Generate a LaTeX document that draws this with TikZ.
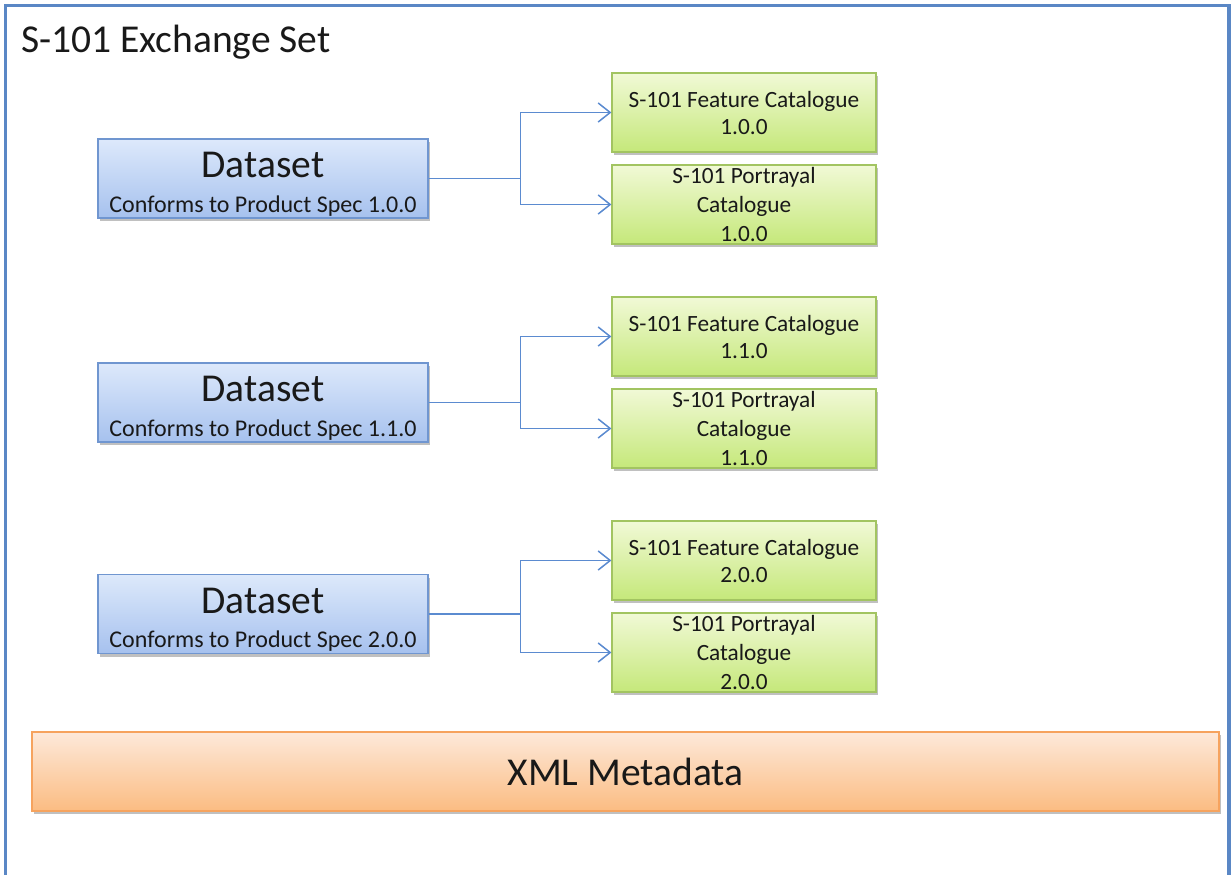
\documentclass[tikz,border=0pt]{standalone}
\usepackage{fontspec}
\setmainfont{Carlito}
\usetikzlibrary{arrows.meta,shadows,calc}

\definecolor{framecol}{HTML}{5A87C5}
\definecolor{linkcol}{HTML}{5B8BD0}
\definecolor{dsTop}{HTML}{DDE9FB}
\definecolor{dsBot}{HTML}{A6C1EE}
\definecolor{dsLine}{HTML}{7096D0}
\definecolor{catTop}{HTML}{F1F9D6}
\definecolor{catBot}{HTML}{C5E87A}
\definecolor{catLine}{HTML}{A2C461}
\definecolor{mdTop}{HTML}{FDE9DA}
\definecolor{mdBot}{HTML}{FBBC82}
\definecolor{mdLine}{HTML}{F6A35E}

\tikzset{
  boxshadow/.style={drop shadow={shadow xshift=2pt, shadow yshift=-3pt, opacity=0.35, fill=black!70}},
  dsbox/.style={draw=dsLine, line width=1.2pt, top color=dsTop, bottom color=dsBot,
    minimum width=330pt, minimum height=79pt, inner sep=0pt, boxshadow},
  catbox/.style={draw=catLine, line width=1.2pt, top color=catTop, bottom color=catBot,
    minimum width=264pt, minimum height=79pt, inner sep=0pt, boxshadow},
  mdbox/.style={draw=mdLine, line width=1.2pt, top color=mdTop, bottom color=mdBot,
    minimum width=1187pt, minimum height=79pt, inner sep=0pt, boxshadow},
  txt/.style={anchor=base, inner sep=0pt, text=black!90},
  link/.style={draw=linkcol, line width=1.5pt, -{Straight Barb[length=12pt,width=19pt]}},
  trunk/.style={draw=linkcol, line width=1.5pt},
}
\newcommand{\bigsize}{\fontsize{39.5}{46}\selectfont}
\newcommand{\subsize}{\fontsize{24}{28}\selectfont}
\newcommand{\catsize}{\fontsize{23.3}{28}\selectfont}

\begin{document}
\begin{tikzpicture}[x=1pt,y=-1pt]
\useasboundingbox (0,0) rectangle (1232,875);
\fill[white] (0,0) rectangle (1232,875);

% outer frame of the exchange set
\draw[framecol, line width=3.5pt] (5.5,900) -- (5.5,5.5) -- (1229,5.5) -- (1229,900);
\node[txt, anchor=base west] (title) at (21,53) {\bigsize S-101 Exchange Set};

% one dataset with its two catalogues
% #1 index, #2 version, #3 dataset centre y, #4 feature top y, #5 portrayal top y
\newcommand{\dsgroup}[5]{%
  \node[dsbox] (ds#1) at (263,#3) {};
  \node[txt] (dsT#1) at (263,#3-1) {\bigsize Dataset};
  \node[txt] (dsS#1) at (263,#3+33.5) {\subsize Conforms to Product Spec #2};
  \node[catbox] (fc#1) at (744,#4+39.5) {};
  \node[txt] (fcA#1) at (744,#4+34) {\catsize S-101 Feature Catalogue};
  \node[txt] (fcB#1) at (744,#4+61.5) {\catsize #2};
  \node[catbox] (pc#1) at (744,#5+39.5) {};
  \node[txt] (pcA#1) at (744,#5+18.5) {\catsize S-101 Portrayal};
  \node[txt] (pcB#1) at (744,#5+47) {\catsize Catalogue};
  \node[txt] (pcC#1) at (744,#5+76) {\catsize #2};
  \coordinate (j#1) at ($(ds#1.east)+(92,0)$);
  \draw[trunk] (ds#1.east) -- (j#1);
  \draw[link] (j#1) |- (fc#1.west);
  \draw[link] (j#1) |- (pc#1.west);
}

\dsgroup{1}{1.0.0}{178.5}{73}{165}
\dsgroup{2}{1.1.0}{402.5}{297}{389}
\dsgroup{3}{2.0.0}{614}{521}{613}

% metadata bar
\node[mdbox] (md) at (625.5,771.5) {};
\node[txt] (mdT) at (625.5,785) {\bigsize XML Metadata};
\end{tikzpicture}
\end{document}
